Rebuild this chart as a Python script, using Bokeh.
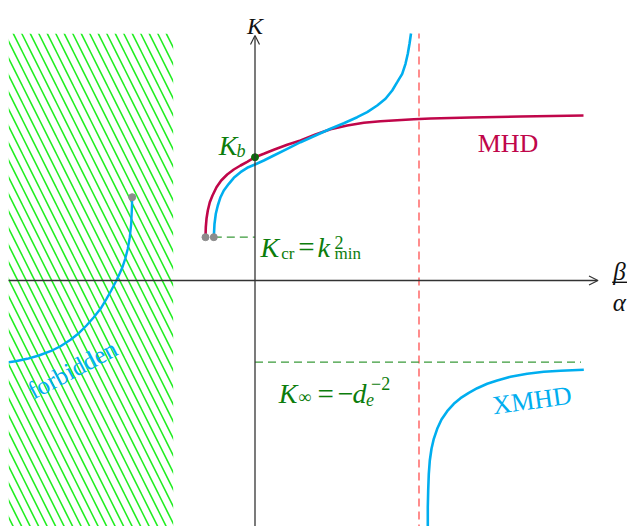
from bokeh.plotting import figure
from bokeh.models import Arrow, OpenHead, Range1d
from bokeh.core.properties import value
from bokeh.embed import file_html
from bokeh.resources import INLINE

# ---- data (in chart units) ----
mhd_x = [-1.2375, -1.23, -1.2125, -1.18, -1.13, -1.0625, -0.9625, -0.845, -0.695, -0.53, -0.3625, -0.195, 0.0,
         0.22, 0.47, 0.805, 1.1375, 1.5125, 1.8875, 2.305, 2.72, 3.1375, 3.555, 3.9725, 4.3875, 5.3875, 6.6375, 8.2125]
mhd_y = [1.0825, 1.3325, 1.5425, 1.75, 1.9575, 2.125, 2.3325, 2.5, 2.65, 2.775, 2.875, 2.9675, 3.0825,
         3.1675, 3.2675, 3.3925, 3.5, 3.65, 3.7825, 3.875, 3.9425, 3.9825, 4.0075, 4.0325, 4.05, 4.075, 4.10, 4.125]

xmhd_up_x = [-1.03, -1.0125, -0.98, -0.93, -0.8625, -0.78, -0.655, -0.53, -0.3625, -0.195, 0.0, 0.22, 0.47, 0.805,
             1.1375, 1.5125, 1.8875, 2.22, 2.555, 2.805, 3.055, 3.2625, 3.43, 3.555, 3.68, 3.7625, 3.82, 3.8625, 3.90]
xmhd_up_y = [1.0825, 1.4175, 1.6675, 1.875, 2.0825, 2.25, 2.4175, 2.5675, 2.7075, 2.8175, 2.90, 3.0, 3.125, 3.2925,
             3.4575, 3.625, 3.7925, 3.9325, 4.0825, 4.2075, 4.375, 4.5425, 4.75, 4.9575, 5.1675, 5.4175, 5.6675, 5.9175, 6.175]

xmhd_lo_x = [4.32, 4.32, 4.32, 4.33, 4.345, 4.37, 4.4125, 4.47, 4.555, 4.6625, 4.805, 4.97, 5.1375, 5.345, 5.555,
             5.805, 6.055, 6.3875, 6.805, 7.22, 7.6375, 8.22]
xmhd_lo_y = [-6.2, -6.125, -5.6675, -5.25, -4.8325, -4.5, -4.2075, -3.9575, -3.7075, -3.475, -3.2675, -3.0825, -2.9425,
             -2.8075, -2.6925, -2.5825, -2.5, -2.4075, -2.3325, -2.2825, -2.2575, -2.2325]

forb_x = [-3.07, -3.08, -3.095, -3.13, -3.18, -3.245, -3.32, -3.405, -3.4875, -3.595, -3.7125, -3.8625, -4.03,
          -4.2125, -4.405, -4.6125, -4.8625, -5.1125, -5.405, -5.695, -5.9875, -6.155]
forb_y = [2.0825, 1.75, 1.4175, 1.0825, 0.7925, 0.5425, 0.3175, 0.125, -0.0425, -0.25, -0.4575, -0.7075, -0.9175,
          -1.125, -1.3175, -1.4825, -1.6425, -1.7675, -1.875, -1.9575, -2.0175, -2.0425]

start_x = [-1.2375, -1.03, -3.07]     # grey end points
start_y = [1.0825, 1.0825, 2.0825]
kb_x, kb_y = [0.0], [3.0825]          # K_b point
k_cr = 1.0825                         # K_cr level
k_inf = -2.04                         # K_inf level
asym_x = 4.10                         # vertical asymptote
forbidden_left, forbidden_right = -6.155, -2.045
forbidden_bottom, forbidden_top = -6.3, 6.1675

GREEN = "#0c7d0c"
CYAN = "#00aeef"
CRIMSON = "#c0064a"
AXIS = "#333333"
SERIF = value("Liberation Serif")

p = figure(width=630, height=526, x_range=Range1d(-6.3625, 9.3875), y_range=Range1d(-6.15, 7.0),
           output_backend="svg", toolbar_location=None, min_border=0)
p.axis.visible = False
p.grid.visible = False
p.outline_line_color = None

# forbidden hatched region
p.quad(left=[forbidden_left], right=[forbidden_right], bottom=[forbidden_bottom], top=[forbidden_top],
       fill_color=None, line_color=None, hatch_pattern="\\", hatch_color="#22ee22",
       hatch_scale=17, hatch_weight=1.6)

# axes
p.add_layout(Arrow(end=OpenHead(size=9, line_width=1.2, line_color=AXIS),
                   x_start=-6.1625, y_start=0, x_end=8.575, y_end=0, line_width=1.3, line_color=AXIS))
p.add_layout(Arrow(end=OpenHead(size=9, line_width=1.2, line_color=AXIS),
                   x_start=0, y_start=-6.3, x_end=0, y_end=6.125, line_width=1.3, line_color=AXIS))

# dashed guides
p.segment(x0=[asym_x], y0=[-6.3], x1=[asym_x], y1=[6.175], line_color="#ff5050", line_width=1.3, line_dash="8 5")
p.segment(x0=[0.0], y0=[k_inf], x1=[8.15], y1=[k_inf], line_color="#3a9a3a", line_width=1.2, line_dash="8 5")
p.segment(x0=[start_x[1]], y0=[k_cr], x1=[0.0], y1=[k_cr], line_color="#3a9a3a", line_width=1.2, line_dash="8 5")

# curves
p.line(mhd_x, mhd_y, line_color=CRIMSON, line_width=2.6)
p.line(xmhd_up_x, xmhd_up_y, line_color=CYAN, line_width=2.6)
p.line(xmhd_lo_x, xmhd_lo_y, line_color=CYAN, line_width=2.6)
p.line(forb_x, forb_y, line_color=CYAN, line_width=2.4)

p.scatter(start_x, start_y, size=7, color="#8c8c8c")
p.scatter(kb_x, kb_y, size=7, color="#0a6e0a")

def txt(x, y, s, size, color="#111111", style="normal", align="left", angle=0.0):
    p.text(x=[x], y=[y], text=[s], text_font=SERIF, text_font_size=f"{size}px", text_font_style=style,
           text_color=color, text_align=align, text_baseline="alphabetic", angle=angle)

# axis labels
txt(0.0, 6.375, "K", 24, style="italic", align="center")
txt(9.11, 0.22, "β", 25, style="italic", align="center")
p.segment(x0=[8.93], y0=[-0.045], x1=[9.30], y1=[-0.045], line_color="#111111", line_width=1.4)
txt(9.11, -0.56, "α", 25, style="italic", align="center")

# curve labels
txt(6.325, 3.425, "MHD", 26, color=CRIMSON, align="center")
txt(6.925, -3.0, "XMHD", 26, color=CYAN, align="center", angle=0.136)
txt(-4.5625, -2.225, "forbidden", 25, color=CYAN, align="center", angle=0.489)

# K_b
txt(-0.905, 3.375, "K", 28, color=GREEN, style="italic")
txt(-0.46, 3.2375, "b", 18, color=GREEN, style="italic")

# K_cr = k_min^2
txt(0.1375, 0.8325, "K", 28, color=GREEN, style="italic")
txt(0.655, 0.675, "cr", 17, color=GREEN)
txt(1.08, 0.8325, "=", 29, color=GREEN)
txt(1.5625, 0.8325, "k", 28, color=GREEN, style="italic")
txt(1.99, 0.9625, "2", 18, color=GREEN)
txt(1.99, 0.6675, "min", 17, color=GREEN)

# K_inf = -d_e^-2
txt(0.595, -2.8325, "K", 28, color=GREEN, style="italic")
txt(1.08, -2.9, "∞", 18, color=GREEN)
txt(1.56, -2.8325, "=", 29, color=GREEN)
txt(2.07, -2.8325, "−", 28, color=GREEN)
txt(2.44, -2.8325, "d", 28, color=GREEN, style="italic")
txt(2.775, -2.9625, "e", 18, color=GREEN, style="italic")
txt(2.90, -2.575, "−2", 18, color=GREEN)

open("out.html", "w").write(file_html(p, INLINE))
